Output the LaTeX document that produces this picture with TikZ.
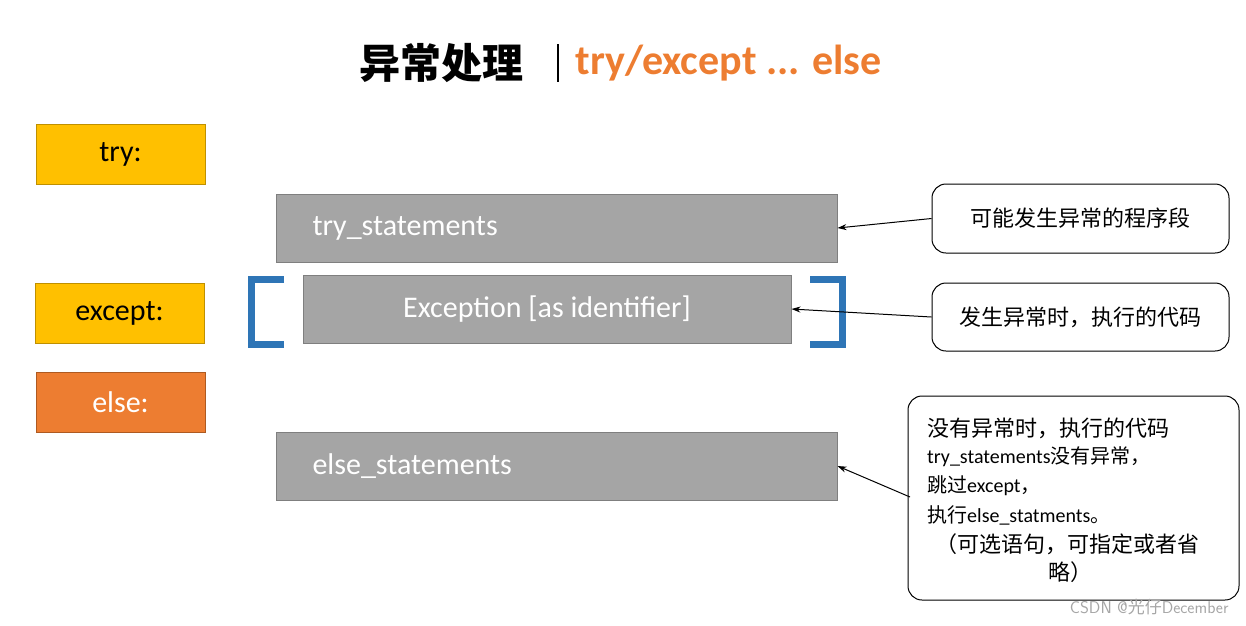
\documentclass[tikz,border=0pt]{standalone}
\usepackage{fontspec}
\setmainfont{Carlito}
\newfontfamily\cjk{Noto Sans CJK SC}
\usetikzlibrary{arrows.meta}
\definecolor{gold}{HTML}{FFC000}
\definecolor{goldb}{HTML}{BF9000}
\definecolor{org}{HTML}{ED7D31}
\definecolor{orgb}{HTML}{AE5A21}
\definecolor{gr}{HTML}{A5A5A5}
\definecolor{grb}{HTML}{7F7F7F}
\definecolor{blu}{HTML}{2E75B6}
\begin{document}
\begin{tikzpicture}[x=1pt,y=-1pt,
 kw/.style={draw=goldb,fill=gold,line width=1pt,minimum width=169pt,minimum height=60pt,font=\fontsize{30}{36}\selectfont},
 gbox/.style={draw=grb,fill=gr,line width=1pt,minimum height=68pt,text=white,font=\fontsize{30}{36}\selectfont},
 call/.style={draw=black,line width=1pt,rounded corners=14pt,fill=white,font=\cjk\fontsize{22}{28}\selectfont},
 ln/.style={anchor=west,inner sep=0pt},
 arr/.style={-{Stealth[length=9pt,width=6pt]},line width=1pt},
 brk/.style={blu,line width=7pt}]
\useasboundingbox (0,0) rectangle (1246,625);
\node[font=\cjk\bfseries\fontsize{41}{48}\selectfont,anchor=east] (t1) at (527,63) {异常处理};
\draw[line width=2.5pt] (558,44) -- (558,82);
\node[font=\bfseries\fontsize{42}{48}\selectfont,text=org,anchor=west] (t2) at (572,63) {try/except ... else};
\node[kw] (try) at (120.5,154) {try:};
\node[kw] (exc) at (119.5,313) {except:};
\node[kw,draw=orgb,fill=org,text=white] (els) at (120.5,402.5) {else:};
\node[gbox,minimum width=561pt] (ts) at (556.5,228) {};
\node[anchor=west,text=white,font=\fontsize{30}{36}\selectfont] at (309,228) {try\_statements};
\node[gbox,minimum width=488pt] (ex) at (547,309) {Exception [as identifier]};
\node[gbox,minimum width=561pt] (es) at (556.5,466) {};
\node[anchor=west,text=white,font=\fontsize{30}{36}\selectfont] at (309,466) {else\_statements};
\draw[brk] (284,279.5) -- (251.5,279.5) -- (251.5,344.5) -- (284,344.5);
\draw[brk] (810,279.5) -- (842.5,279.5) -- (842.5,344.5) -- (810,344.5);
\node[call,minimum width=297pt,minimum height=69pt] (c1) at (1080.5,218.5) {可能发生异常的程序段};
\node[call,minimum width=297pt,minimum height=68pt] (c2) at (1080.5,317) {发生异常时，执行的代码};
\node[call,minimum width=331pt,minimum height=204pt] (c3) at (1073.5,498) {};
\node[ln,font=\cjk\fontsize{22}{26}\selectfont] (l1) at (927,428) {没有异常时，执行的代码};
\node[ln,font=\fontsize{20}{24}\selectfont] (l2) at (927,457) {try\_statements{\cjk 没有异常，}};
\node[ln,font=\fontsize{20}{24}\selectfont] (l3) at (927,486) {{\cjk 跳过}except{\cjk ，}};
\node[ln,font=\fontsize{20}{24}\selectfont] (l4) at (927,515) {{\cjk 执行}else\_statments{\cjk 。}};
\node[ln,font=\cjk\fontsize{22}{26}\selectfont] (l5) at (935,544) {（可选语句，可指定或者省};
\node[ln,font=\cjk\fontsize{22}{26}\selectfont] (l6) at (1048,572) {略）};
\draw[arr] (c1.west) -- (ts.east);
\draw[arr] (c2.west) -- (ex.east);
\draw[arr] (910,497) -- (es.east);
\node[anchor=south east,text=gray!70,font=\sffamily\fontsize{17}{20}\selectfont] (wm) at (1232,618) {CSDN @{\cjk 光仔}December};
\end{tikzpicture}
\end{document}
